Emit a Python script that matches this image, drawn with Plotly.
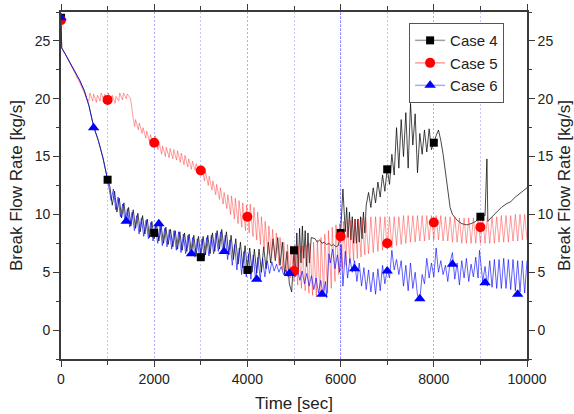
import plotly.graph_objects as go

# ---------------- data ----------------
# Case 4 (black line)
case4_time = [
    0, 15, 100, 200, 300, 400, 500, 600, 700, 800, 900, 1000,
    1050, 1100, 1150, 1200, 1250, 1300, 1350, 1400, 1450, 1500,
    1550, 1600, 1650, 1700, 1750, 1800, 1850, 1900, 1950, 2000,
    2050, 2100, 2150, 2200, 2250, 2300, 2350, 2400, 2450, 2500,
    2550, 2600, 2650, 2700, 2750, 2800, 2850, 2900, 2950, 3000,
    3050, 3100, 3150, 3200, 3250, 3300, 3350, 3400, 3450, 3500,
    3550, 3600, 3650, 3700, 3750, 3800, 3850, 3900, 3950, 4000,
    4050, 4100, 4150, 4200, 4250, 4300, 4350, 4400, 4450, 4500,
    4550, 4600, 4650, 4700, 4750, 4800, 4850, 4900, 4950, 5000,
    5030, 5060, 5090, 5120, 5150, 5180, 5210, 5240, 5270, 5300,
    5330, 5370, 5450, 5500, 5550, 5600, 5650, 5700, 5750, 5800,
    5850, 5900, 5950, 6000, 6050, 6070, 6100, 6130, 6160, 6190,
    6220, 6250, 6280, 6310, 6340, 6370, 6400, 6430, 6460, 6490,
    6520, 6550, 6600, 6650, 6700, 6750, 6800, 6850, 6900, 6950,
    7000, 7050, 7100, 7150, 7200, 7250, 7300, 7350, 7400, 7450,
    7500, 7550, 7600, 7650, 7700, 7750, 7800, 7850, 7900, 7950,
    8000, 8050, 8100, 8150, 8200, 8250, 8300, 8350, 8400, 8500,
    8600, 8700, 8800, 8900, 9000, 9100, 9140, 9160, 9250, 9350,
    9450, 9550, 9650, 9750, 9850, 10000]
case4_flow = [
    27.0, 24.4, 23.8, 23.1, 22.4, 21.6, 20.7, 19.4, 17.6, 16.4, 14.9, 13.0,
    12.4, 10.8, 12.0, 10.2, 11.4, 9.7, 11.0, 9.3, 10.6, 9.0,
    10.4, 8.8, 10.1, 8.5, 9.9, 8.3, 9.6, 8.0, 9.4, 7.9,
    9.2, 7.7, 9.0, 7.5, 8.9, 7.4, 8.7, 7.2, 8.6, 7.0,
    8.5, 6.9, 8.4, 6.8, 8.3, 6.6, 8.2, 6.5, 8.1, 6.4,
    8.1, 6.5, 8.2, 6.6, 8.4, 6.8, 8.6, 7.0, 8.7, 6.9,
    8.5, 6.5, 8.2, 6.1, 7.9, 5.7, 7.6, 5.4, 7.3, 5.2,
    7.1, 5.0, 7.0, 4.9, 7.0, 5.0, 7.2, 5.3, 7.6, 5.8,
    7.9, 6.0, 8.0, 5.6, 7.6, 4.8, 6.8, 4.0, 3.3, 6.9,
    4.8, 8.4, 5.2, 8.8, 5.8, 9.0, 6.2, 8.6, 5.5, 8.4,
    5.8, 8.0, 7.9, 7.6, 7.8, 7.5, 7.6, 7.4, 7.5, 7.3,
    7.4, 7.2, 7.3, 8.4, 12.2, 11.0, 8.5, 10.6, 8.0, 10.2,
    7.8, 9.8, 7.5, 9.6, 7.5, 9.6, 7.6, 9.8, 7.9, 10.2,
    8.4, 10.8, 11.9, 10.6, 12.3, 11.0, 12.8, 11.5, 13.4, 12.0,
    14.0, 12.6, 15.2, 13.4, 17.5, 14.0, 18.2, 15.0, 18.8, 14.0,
    19.6, 16.0, 18.7, 13.6, 17.0, 15.2, 17.3, 15.4, 17.4, 15.6,
    16.3, 16.8, 17.3, 16.4, 15.2, 13.6, 12.0, 10.6, 10.0, 9.5,
    9.2, 9.1, 9.2, 9.4, 9.8, 9.9, 14.8, 9.4, 9.8, 10.2,
    10.6, 10.9, 11.1, 11.5, 11.8, 12.3]

# Case 5 (red line)
case5_time = [
    0, 15, 100, 200, 300, 400, 500, 550,
    600, 620, 680, 700, 760, 780, 840, 860, 920, 940,
    1000, 1020, 1080, 1100, 1160, 1180, 1240, 1260, 1320, 1340,
    1400, 1420, 1480, 1500,
    1550, 1580, 1600, 1660, 1680, 1740, 1760, 1820, 1840, 1900,
    1920, 1980, 2000, 2020, 2080, 2100, 2160, 2180, 2240, 2260,
    2320, 2340, 2400, 2420, 2480, 2500, 2560, 2580, 2640, 2660,
    2720, 2740, 2800, 2820, 2880, 2900, 2960, 3000, 3020,
    3080, 3100, 3160, 3180, 3240, 3260, 3320, 3340, 3400, 3420,
    3480, 3500, 3560, 3580,
    3640, 3660, 3720, 3740, 3800, 3820, 3880, 3900, 3960, 3980,
    4040, 4060, 4120, 4140, 4200, 4220, 4280, 4300, 4360, 4380,
    4440, 4460, 4520, 4540, 4600, 4620, 4680, 4700, 4760, 4780,
    4840, 4860,
    4920, 4940, 5000, 5020, 5080, 5100, 5160, 5180, 5240, 5260,
    5320, 5340, 5400, 5420, 5480, 5500, 5560, 5580, 5640, 5660,
    5720, 5740, 5800, 5820, 5880, 5900, 5960, 5980, 6040, 6060,
    6120, 6140, 6200, 6220, 6280, 6300, 6360, 6380, 6440, 6460,
    6520, 6540,
    6600, 6650, 6700, 6750, 6800, 6850, 6900, 6950, 7000, 7050,
    7100, 7150, 7200, 7250, 7300, 7350, 7400, 7450, 7500, 7550,
    7600, 7650, 7700, 7750, 7800, 7850, 7900, 7950, 8000, 8050,
    8100, 8150, 8200, 8250, 8300, 8350, 8400, 8450, 8500, 8550,
    8600, 8650, 8700, 8750, 8800, 8850, 8900, 8950, 9000, 9050,
    9100, 9150, 9200, 9250, 9300, 9350, 9400, 9450, 9500, 9550,
    9600, 9650, 9700, 9750, 9800, 9850, 9900, 9950, 10000]
case5_flow = [
    27.0, 24.4, 23.8, 23.0, 22.3, 21.4, 20.5, 20.0,
    19.8, 20.5, 19.8, 20.4, 19.7, 20.3, 19.8, 20.5, 19.9, 20.4,
    19.9, 20.5, 19.7, 20.3, 19.6, 20.2, 19.8, 20.5, 19.9, 20.5,
    20.0, 20.4, 20.1, 19.8,
    18.3, 17.6, 18.2, 17.3, 17.9, 17.0, 17.5, 16.6, 17.2, 16.3,
    16.9, 16.0, 16.2, 16.8, 15.6, 16.3, 15.2, 15.9, 15.0, 15.8,
    14.9, 15.7, 14.8, 15.6, 14.7, 15.5, 14.5, 15.3, 14.3, 15.1,
    14.1, 14.8, 13.9, 14.6, 13.8, 14.4, 13.6, 13.8, 14.2,
    12.9, 13.7, 12.5, 13.3, 12.1, 12.9, 11.7, 12.6, 11.3, 12.3,
    10.9, 11.9, 10.5, 11.7,
    10.0, 11.6, 9.6, 11.4, 9.2, 11.2, 8.9, 11.0, 8.6, 10.8,
    8.4, 10.9, 8.1, 10.6, 7.8, 10.2, 7.4, 9.8, 7.0, 9.4,
    6.6, 9.0, 6.3, 8.7, 6.0, 8.4, 5.6, 8.0, 5.2, 7.6,
    4.8, 7.4,
    4.5, 7.3, 4.2, 7.4, 3.9, 7.3, 3.6, 7.3, 3.4, 7.4,
    3.2, 7.5, 3.0, 7.6, 2.9, 7.8, 2.9, 8.0, 3.0, 8.3,
    3.2, 8.6, 3.6, 8.9, 4.2, 9.1, 4.8, 9.2, 5.3, 9.4,
    5.6, 9.5, 5.8, 9.5, 6.0, 9.6, 6.2, 9.6, 6.3, 9.7,
    6.5, 9.7,
    6.6, 9.8, 6.7, 9.8, 6.8, 9.8, 6.9, 9.8, 7.0, 9.8,
    7.1, 9.8, 7.3, 9.8, 7.4, 9.9, 7.5, 9.9, 7.6, 9.9,
    7.6, 9.9, 7.7, 9.9, 7.7, 9.9, 7.8, 9.9, 7.8, 9.9,
    7.8, 9.9, 7.7, 9.8, 7.7, 9.8, 7.6, 9.8, 7.6, 9.7,
    7.5, 9.7, 7.5, 9.7, 7.5, 9.7, 7.5, 9.7, 7.5, 9.7,
    7.5, 9.8, 7.5, 9.8, 7.5, 9.8, 7.6, 9.9, 7.6, 9.9,
    7.6, 9.9, 7.7, 10.0, 7.7, 10.0, 7.8, 10.0, 7.8]

# Case 6 (blue line)
case6_time = [
    0, 15, 100, 200, 300, 400, 500, 600, 700, 800, 900, 1000,
    1075, 1125, 1175, 1225, 1275, 1325, 1375, 1425, 1475, 1525,
    1575, 1625, 1675, 1725, 1775, 1825, 1875, 1925, 1975, 2025,
    2075, 2125, 2175, 2225, 2275, 2325, 2375, 2425, 2475, 2525,
    2575, 2625, 2675, 2725, 2775, 2825, 2875, 2925, 2975, 3025,
    3075, 3125, 3175, 3225, 3275, 3325, 3375, 3425, 3475, 3525,
    3575, 3625, 3675, 3725, 3775, 3825, 3875, 3925, 3975, 4025,
    4075, 4125, 4175, 4225, 4275, 4325, 4375, 4425, 4475, 4525,
    4575, 4625, 4675, 4725, 4775, 4825, 4875, 4925,
    4975, 5025, 5075, 5125, 5175, 5225, 5275, 5325, 5375, 5425,
    5475, 5525, 5575, 5625, 5675, 5700, 5750, 5780, 5830, 5880,
    5930, 5980, 6010, 6050, 6100, 6150, 6200, 6250, 6300, 6350,
    6400, 6450, 6500, 6550, 6600, 6650, 6700, 6750, 6800, 6850,
    6900, 6950, 7000, 7050, 7100, 7150, 7200, 7250, 7300, 7350,
    7400, 7450, 7500, 7550, 7600, 7650, 7700, 7750, 7800, 7850,
    7900, 7950, 8000, 8050, 8100, 8150, 8200, 8250, 8300, 8350,
    8400, 8450, 8500, 8550, 8600, 8650, 8700, 8750, 8800, 8850,
    8900, 8950, 8980, 9050, 9100, 9150, 9200, 9250, 9300, 9350,
    9400, 9450, 9500, 9550, 9600, 9650, 9700, 9750, 9800, 9850,
    9900, 9950, 10000]
case6_flow = [
    27.0, 24.4, 23.8, 23.1, 22.4, 21.6, 20.7, 19.4, 17.6, 16.4, 14.9, 13.0,
    11.2, 12.2, 10.4, 11.5, 9.8, 10.9, 9.3, 10.5, 8.9, 10.2,
    8.6, 9.9, 8.3, 9.7, 8.1, 9.5, 7.9, 9.3, 7.7, 9.1,
    7.5, 9.0, 7.3, 8.8, 7.2, 8.7, 7.0, 8.6, 6.9, 8.5,
    6.7, 8.3, 6.6, 8.2, 6.4, 8.0, 6.3, 7.9, 6.2, 7.9,
    6.3, 8.0, 6.4, 8.2, 6.6, 8.4, 6.8, 8.5, 6.6, 8.2,
    6.1, 7.8, 5.6, 7.4, 5.2, 7.1, 4.8, 6.8, 4.6, 6.6,
    4.4, 6.5, 4.3, 6.3, 4.4, 6.2, 4.6, 6.0, 4.9, 5.9,
    5.1, 5.7, 5.0, 5.5, 4.8, 5.2, 4.6, 5.0,
    5.4, 4.6, 5.3, 4.3, 5.1, 4.0, 4.9, 3.8, 4.7, 3.5,
    4.5, 3.2, 4.3, 3.0, 4.2, 2.8, 6.6, 5.8, 7.0, 5.3,
    6.5, 5.0, 7.4, 3.8, 6.8, 4.5, 6.2, 5.0, 6.0, 4.2,
    5.8, 3.8, 5.4, 3.5, 5.2, 3.3, 5.0, 3.1, 5.3, 3.4,
    5.6, 4.0, 5.2, 4.5, 6.9, 5.2, 6.1, 4.8, 6.0, 3.8,
    5.6, 3.4, 5.8, 3.6, 5.0, 3.0, 2.6, 4.8, 4.0, 6.2,
    4.5, 5.8, 4.6, 7.1, 5.0, 6.0, 4.8, 5.6, 4.2, 5.9,
    6.7, 4.4, 5.8, 3.9, 6.0, 4.5, 6.2, 4.2, 5.7, 4.6,
    6.3, 4.5, 6.9, 4.2, 5.5, 3.8, 6.0, 3.7, 6.1, 3.6,
    6.1, 3.6, 6.2, 3.6, 6.1, 3.5, 6.1, 3.4, 6.0, 3.3,
    6.0, 3.2, 6.0]

# symbol positions
case4_mark_time = [0, 1000, 2000, 3000, 4000, 5000, 6000, 7000, 8000, 9000]
case4_mark_flow = [27.0, 13.0, 8.4, 6.3, 5.2, 6.9, 8.4, 13.9, 16.2, 9.8]
case5_mark_time = [0, 1000, 2000, 3000, 4000, 5000, 6000, 7000, 8000, 9000]
case5_mark_flow = [26.8, 19.9, 16.2, 13.8, 9.8, 5.1, 8.1, 7.5, 9.3, 8.9]
case6_mark_time = [0, 700, 1400, 2100, 2800, 3500, 4200, 4900, 5600, 6300,
                   7000, 7700, 8400, 9100, 9800]
case6_mark_flow = [27.0, 17.5, 9.4, 9.2, 6.6, 6.8, 4.4, 4.9, 3.1, 5.3,
                   5.1, 2.7, 5.7, 4.1, 3.1]

series_names = ["Case 4", "Case 5", "Case 6"]
x_tick_values = [0, 2000, 4000, 6000, 8000, 10000]
x_tick_labels = ["0", "2000", "4000", "6000", "8000", "10000"]
y_tick_values = [0, 5, 10, 15, 20, 25]

assert len(case4_time) == len(case4_flow), (len(case4_time), len(case4_flow))
assert len(case5_time) == len(case5_flow), (len(case5_time), len(case5_flow))
assert len(case6_time) == len(case6_flow), (len(case6_time), len(case6_flow))

# ---------------- figure ----------------
FONT = "Liberation Sans, Arial, sans-serif"
line_cols = ["rgba(0,0,0,0.8)", "rgba(255,30,30,0.55)", "rgba(0,0,255,0.62)"]
line_widths = [0.9, 0.8, 1.0]
legend_line_cols = ["rgba(120,120,120,0.7)", "rgba(255,90,90,0.6)", "rgba(110,110,255,0.6)"]
mark_cols = ["black", "red", "blue"]
symbols = ["square", "circle", "triangle-up"]
msizes = [8, 10, 10]

fig = go.Figure()

series = [(case4_time, case4_flow, case4_mark_time, case4_mark_flow),
          (case5_time, case5_flow, case5_mark_time, case5_mark_flow),
          (case6_time, case6_flow, case6_mark_time, case6_mark_flow)]

for i, (t, f, mt, mf) in enumerate(series):
    fig.add_trace(go.Scatter(x=t, y=f, mode="lines", showlegend=False,
                             line=dict(color=line_cols[i], width=line_widths[i]),
                             hoverinfo="skip"))
for i, (t, f, mt, mf) in enumerate(series):
    fig.add_trace(go.Scatter(x=mt, y=mf, mode="markers", showlegend=False,
                             marker=dict(symbol=symbols[i], size=msizes[i],
                                         color=mark_cols[i], line=dict(width=0))))
# legend-only entries
for i in range(3):
    fig.add_trace(go.Scatter(x=[None], y=[None], mode="lines+markers",
                             name=series_names[i], yaxis="y2",
                             line=dict(color=legend_line_cols[i], width=1.5),
                             marker=dict(symbol=symbols[i], size=msizes[i],
                                         color=mark_cols[i], line=dict(width=0))))

fig.add_shape(type="line", x0=6000, x1=6000, y0=0, y1=1, xref="x", yref="paper",
              line=dict(color="rgba(80,80,255,0.8)", width=1, dash="2px,2px"),
              layer="below")

axis_col = "#3a3a3a"
grid_col = "rgba(150,150,255,0.55)"

fig.update_layout(
    width=574, height=414,
    margin=dict(l=61, r=47, t=12, b=55),
    paper_bgcolor="white", plot_bgcolor="white",
    font=dict(family=FONT, size=14, color="#222"),
    legend=dict(x=0.747, y=0.968, xanchor="left", yanchor="top",
                bgcolor="white", bordercolor="#555", borderwidth=1,
                font=dict(size=15, color="#222"), tracegroupgap=0),
    xaxis=dict(range=[0, 10000], tickvals=x_tick_values, ticktext=x_tick_labels,
               automargin=False,
               ticks="outside", ticklen=6, tickwidth=1.2, tickcolor=axis_col,
               showline=True, linecolor=axis_col, linewidth=1.6, mirror="ticks",
               showgrid=True, gridcolor=grid_col, griddash="2px,2px", gridwidth=1,
               zeroline=False,
               minor=dict(dtick=1000, ticks="outside", ticklen=4, tickcolor=axis_col,
                          showgrid=True, gridcolor=grid_col, griddash="2px,2px", gridwidth=1),
               title=dict(text="Time [sec]", font=dict(size=17), standoff=12),
               tickfont=dict(size=14)),
    yaxis=dict(range=[-2.5, 27.5], tickvals=y_tick_values, automargin=False,
               ticks="outside", ticklen=6, tickwidth=1.2, tickcolor=axis_col,
               showline=True, linecolor=axis_col, linewidth=1.6, mirror=False,
               showgrid=False, zeroline=False,
               minor=dict(dtick=2.5, tick0=0, ticks="outside", ticklen=3, tickcolor=axis_col),
               title=dict(text="Break Flow Rate [kg/s]", font=dict(size=17), standoff=8),
               tickfont=dict(size=14)),
    yaxis2=dict(range=[-2.5, 27.5], tickvals=y_tick_values, overlaying="y", side="right",
                anchor="x", automargin=False,
                ticks="outside", ticklen=6, tickwidth=1.2, tickcolor=axis_col,
                showline=True, linecolor=axis_col, linewidth=1.6,
                showgrid=False, zeroline=False,
                minor=dict(dtick=2.5, tick0=0, ticks="outside", ticklen=3, tickcolor=axis_col),
                title=dict(text="Break Flow Rate [kg/s]", font=dict(size=17), standoff=8),
                tickfont=dict(size=14)),
)

fig.write_html("out.html", config={"displayModeBar": False},
               post_script="document.body.style.margin='0px';document.body.style.padding='0px';")
